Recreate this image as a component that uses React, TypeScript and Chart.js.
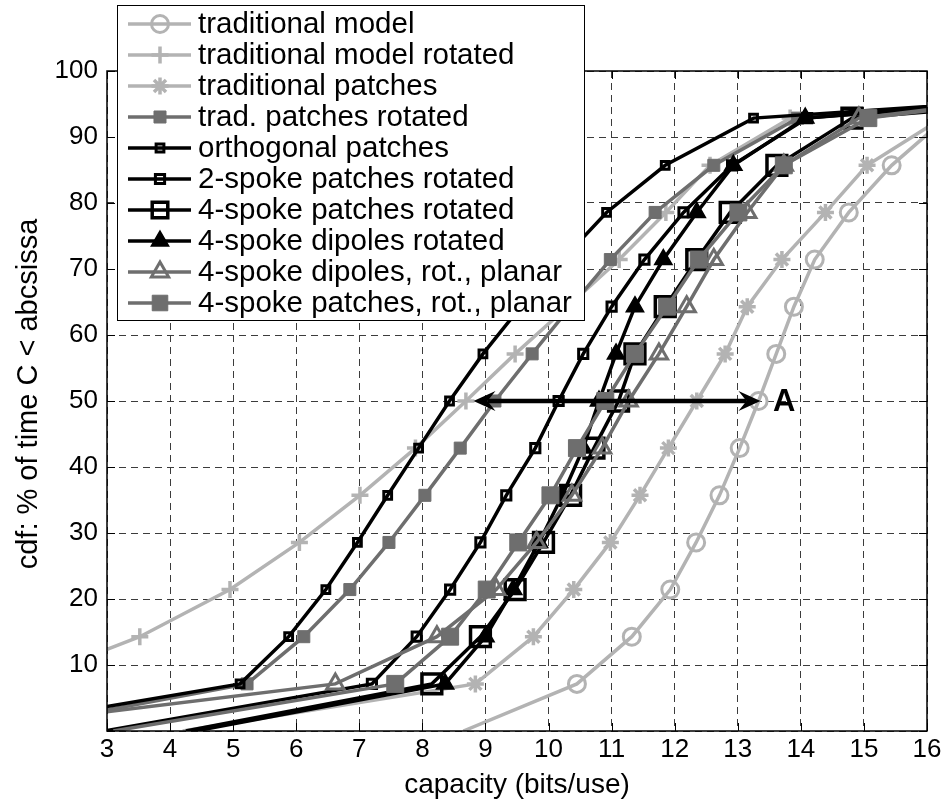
import React, { useEffect, useRef } from 'react';
import { Chart, registerables } from 'chart.js';
import { drawPoint } from 'chart.js/helpers';

Chart.register(...registerables);

// CDF levels shared by every curve (% of time C < abscissa)
const cdfLevels = [0, 7.14, 14.29, 21.43, 28.57, 35.71, 42.86, 50, 57.14, 64.29, 71.43, 78.57, 85.71, 92.86, 100];

// capacity (bits/use) at each CDF level, per series
const tradModelX = [8.65, 10.45, 11.32, 11.93, 12.34, 12.71, 13.03, 13.33, 13.61, 13.89, 14.22, 14.76, 15.44, 16.3, 17.6];
const tradModelRotX = [0.2, 1.6, 3.52, 4.95, 6.05, 7.01, 7.89, 8.69, 9.47, 10.3, 11.12, 11.86, 12.56, 13.83, 23];
const tradPatchesX = [4.2, 8.84, 9.76, 10.4, 10.98, 11.45, 11.9, 12.35, 12.8, 13.15, 13.7, 14.39, 15.05, 16.24, 17.8];
const tradPatchesRotX = [1.2, 5.22, 6.12, 6.85, 7.47, 8.04, 8.6, 9.15, 9.74, 10.35, 10.98, 11.69, 12.62, 13.95, 24];
const orthogonalX = [0.7, 5.11, 5.88, 6.47, 6.97, 7.45, 7.94, 8.43, 8.96, 9.56, 10.22, 10.92, 11.85, 13.25, 24.5];
const twoSpokeRotX = [2.95, 7.2, 7.91, 8.44, 8.92, 9.33, 9.79, 10.16, 10.55, 11.0, 11.52, 12.14, 12.91, 14.1, 23.5];
const fourSpokePatchesRotX = [4.25, 8.15, 8.92, 9.47, 9.92, 10.35, 10.72, 11.11, 11.37, 11.85, 12.35, 12.88, 13.62, 14.81, 24];
const fourSpokeDipolesRotX = [4.4, 8.36, 9.0, 9.44, 9.85, 10.22, 10.55, 10.8, 11.07, 11.37, 11.82, 12.35, 12.93, 14.07, 23];
const dipolesPlanarX = [0.5, 6.62, 8.23, 9.17, 9.81, 10.37, 10.85, 11.27, 11.75, 12.19, 12.62, 13.15, 13.73, 14.92, 21];
const patchesPlanarX = [3.1, 7.57, 8.44, 9.02, 9.52, 10.03, 10.45, 10.9, 11.37, 11.88, 12.38, 13.01, 13.73, 15.07, 21];

const seriesNames = [
  'traditional model',
  'traditional model rotated',
  'traditional patches',
  'trad. patches rotated',
  'orthogonal patches',
  '2-spoke patches rotated',
  '4-spoke patches rotated',
  '4-spoke dipoles rotated',
  '4-spoke dipoles, rot., planar',
  '4-spoke patches, rot., planar',
];
const seriesX = [
  tradModelX, tradModelRotX, tradPatchesX, tradPatchesRotX, orthogonalX,
  twoSpokeRotX, fourSpokePatchesRotX, fourSpokeDipolesRotX, dipolesPlanarX, patchesPlanarX,
];

// annotation "A": double arrow at the 50% level
const arrowLevel = 50;
const arrowFromX = 8.81;
const arrowToX = 13.36;
const arrowLabel = 'A';
const arrowLabelX = 13.56;

const xTicks = [3, 4, 5, 6, 7, 8, 9, 10, 11, 12, 13, 14, 15, 16];
const yTicks = [0, 10, 20, 30, 40, 50, 60, 70, 80, 90, 100];

const LIGHT = '#b3b3b3';
const MID = '#6e6e6e';
const BLACK = '#000000';
const FONT = "'Liberation Sans', Arial, Helvetica, sans-serif";
const CLEAR = 'rgba(0,0,0,0)';
const LINE_W = 3.5;

type Sty = { color: string; pointStyle: any; radius: number; fill: boolean; bw: number };
const styles: Sty[] = [
  { color: LIGHT, pointStyle: 'circle', radius: 8.5, fill: false, bw: 3 },
  { color: LIGHT, pointStyle: 'cross', radius: 8.5, fill: false, bw: 3.5 },
  { color: LIGHT, pointStyle: 'star', radius: 8.5, fill: false, bw: 3.5 },
  { color: MID, pointStyle: 'rect', radius: 8.5, fill: true, bw: 1 },
  { color: BLACK, pointStyle: 'rect', radius: 5.5, fill: false, bw: 3 },
  { color: BLACK, pointStyle: 'rect', radius: 6.5, fill: false, bw: 3 },
  { color: BLACK, pointStyle: 'rect', radius: 14, fill: false, bw: 3.5 },
  { color: BLACK, pointStyle: 'triangle', radius: 10, fill: true, bw: 1.5 },
  { color: MID, pointStyle: 'triangle', radius: 10, fill: false, bw: 3 },
  { color: MID, pointStyle: 'rect', radius: 12, fill: true, bw: 1 },
];

const decorPlugin = {
  id: 'decor',
  afterDraw(chart: any) {
    const ctx: CanvasRenderingContext2D = chart.ctx;
    const { left, right, top, bottom } = chart.chartArea;
    const xs = chart.scales.x;
    const ys = chart.scales.y;

    // frame + inward ticks
    ctx.save();
    ctx.strokeStyle = '#000';
    ctx.lineWidth = 1.5;
    ctx.setLineDash([]);
    ctx.strokeRect(left, top, right - left, bottom - top);
    ctx.lineWidth = 1;
    ctx.beginPath();
    const tl = 8;
    xTicks.forEach((v) => {
      const p = Math.round(xs.getPixelForValue(v)) + 0.5;
      ctx.moveTo(p, bottom); ctx.lineTo(p, bottom - tl);
      ctx.moveTo(p, top); ctx.lineTo(p, top + tl);
    });
    yTicks.forEach((v) => {
      const p = Math.round(ys.getPixelForValue(v)) + 0.5;
      ctx.moveTo(left, p); ctx.lineTo(left + tl, p);
      ctx.moveTo(right, p); ctx.lineTo(right - tl, p);
    });
    ctx.stroke();
    ctx.restore();

    // double arrow annotation
    ctx.save();
    const ay = ys.getPixelForValue(arrowLevel);
    const ax1 = xs.getPixelForValue(arrowFromX);
    const ax2 = xs.getPixelForValue(arrowToX);
    const L = 22, W = 10, N = 14;
    ctx.strokeStyle = '#000';
    ctx.fillStyle = '#000';
    ctx.lineWidth = 4.5;
    ctx.beginPath();
    ctx.moveTo(ax1 + N, ay);
    ctx.lineTo(ax2 - N, ay);
    ctx.stroke();
    const head = (tipX: number, dir: number) => {
      ctx.beginPath();
      ctx.moveTo(tipX, ay);
      ctx.lineTo(tipX - dir * L, ay - W);
      ctx.lineTo(tipX - dir * N, ay);
      ctx.lineTo(tipX - dir * L, ay + W);
      ctx.closePath();
      ctx.fill();
    };
    head(ax2, 1);
    head(ax1, -1);
    ctx.font = `bold 31px ${FONT}`;
    ctx.textAlign = 'left';
    ctx.textBaseline = 'middle';
    ctx.fillText(arrowLabel, xs.getPixelForValue(arrowLabelX), ay + 1);
    ctx.restore();

    // y axis title
    ctx.save();
    ctx.translate(29, (top + bottom) / 2 - 7);
    ctx.rotate(-Math.PI / 2);
    ctx.font = `29px ${FONT}`;
    ctx.fillStyle = '#000';
    ctx.textAlign = 'center';
    ctx.textBaseline = 'middle';
    ctx.fillText('cdf: % of time C < abcsissa', 0, 0);
    ctx.restore();

    // legend
    ctx.save();
    const bx = 117.5, by = 5.5, bw = 467, bh = 315;
    ctx.fillStyle = '#fff';
    ctx.fillRect(bx, by, bw, bh);
    ctx.strokeStyle = '#000';
    ctx.lineWidth = 1;
    ctx.strokeRect(bx, by, bw, bh);
    ctx.font = `29.5px ${FONT}`;
    ctx.textAlign = 'left';
    ctx.textBaseline = 'middle';
    seriesNames.forEach((name, i) => {
      const s = styles[i];
      const y = 24 + i * 31;
      ctx.strokeStyle = s.color;
      ctx.lineWidth = LINE_W;
      ctx.beginPath();
      ctx.moveTo(128, y);
      ctx.lineTo(191, y);
      ctx.stroke();
      ctx.fillStyle = s.fill ? s.color : CLEAR;
      ctx.strokeStyle = s.color;
      ctx.lineWidth = s.bw;
      drawPoint(ctx, { pointStyle: s.pointStyle, rotation: 0, radius: Math.min(s.radius, 11), borderWidth: s.bw } as any, 160, y);
      ctx.fillStyle = '#000';
      ctx.fillText(name, 198, y + 1);
    });
    ctx.restore();
  },
};

export default function App() {
  const ref = useRef<HTMLCanvasElement | null>(null);
  useEffect(() => {
    if (!ref.current) return;
    const datasets = seriesX.map((xs, i) => ({
      label: seriesNames[i],
      data: xs.map((x, j) => ({ x, y: cdfLevels[j] })),
      borderColor: styles[i].color,
      backgroundColor: styles[i].color,
      borderWidth: LINE_W,
      pointStyle: styles[i].pointStyle,
      // no marker on the 0 % and 100 % end points of each cdf
      pointRadius: cdfLevels.map((lv) => (lv === 0 || lv === 100 ? 0 : styles[i].radius)),
      pointBorderWidth: styles[i].bw,
      pointBorderColor: styles[i].color,
      pointBackgroundColor: styles[i].fill ? styles[i].color : CLEAR,
      tension: 0,
      fill: false,
      order: -i,
    }));
    const gridCommon = { color: '#3c3c3c', lineWidth: 1, drawTicks: false };
    const chart = new Chart(ref.current, {
      type: 'line',
      data: { datasets },
      plugins: [decorPlugin],
      options: {
        animation: false,
        responsive: false,
        events: [],
        layout: { padding: { left: 0, right: 18, top: 71, bottom: 0 } },
        plugins: { legend: { display: false }, tooltip: { enabled: false }, title: { display: false } },
        scales: {
          x: {
            type: 'linear',
            min: 3,
            max: 16,
            ticks: { stepSize: 1, autoSkip: false, maxRotation: 0, color: '#000', padding: 3, font: { family: FONT, size: 26 } },
            grid: gridCommon,
            border: { display: false, dash: [7, 5] },
            title: { display: true, text: 'capacity (bits/use)', color: '#000', font: { family: FONT, size: 28 }, padding: { top: 0, bottom: 4 } },
            afterFit: (s: any) => { s.height = 75; },
          },
          y: {
            type: 'linear',
            min: 0,
            max: 100,
            ticks: { stepSize: 10, color: '#000', padding: 9, font: { family: FONT, size: 26 }, callback: (v: any) => (v === 0 ? '' : String(v)) },
            grid: gridCommon,
            border: { display: false, dash: [7, 5] },
            afterFit: (s: any) => { s.width = 107; },
          },
        },
      } as any,
    });
    return () => chart.destroy();
  }, []);
  return (
    <div style={{ position: 'fixed', left: 0, top: 0, width: 945, height: 806, background: '#fff' }}>
      <canvas ref={ref} width={945} height={806} style={{ display: 'block', width: 945, height: 806 }} />
    </div>
  );
}
